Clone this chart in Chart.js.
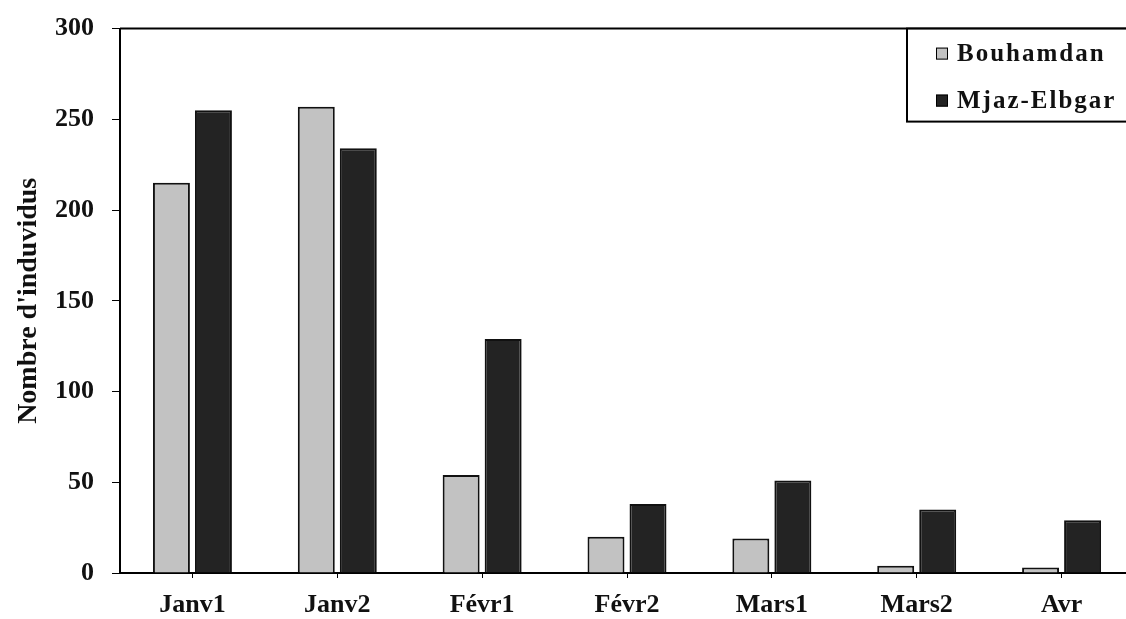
<!DOCTYPE html>
<html>
<head>
<meta charset="utf-8">
<script src="https://cdn.jsdelivr.net/npm/chart.js@4/dist/chart.umd.min.js"></script>
<style>
  html, body { margin: 0; padding: 0; background: #fff; overflow: hidden; }
  #wrap { width: 1126px; height: 619px; position: relative; overflow: hidden; }
  #c { position: absolute; left: 0; top: -5px; }
</style>
</head>
<body>
<div id="wrap"><canvas id="c" width="1134" height="624"></canvas></div>
<script>
const categories = ["Janv1", "Janv2", "Févr1", "Févr2", "Mars1", "Mars2", "Avr"];
const bouhamdan = [215, 257, 54, 20, 19, 4, 3];
const mjazElbgar = [255, 234, 129, 38, 51, 35, 29];
const seriesNames = ["Bouhamdan", "Mjaz-Elbgar"];
const yTicks = [0, 50, 100, 150, 200, 250, 300];
const yTitle = "Nombre d'induvidus";

const FONT = "'Liberation Serif', 'DejaVu Serif', serif";

const framePlugin = {
  id: 'frame',
  afterDraw(chart) {
    const ctx = chart.ctx;
    const a = chart.chartArea;
    ctx.save();
    ctx.strokeStyle = '#000';
    ctx.lineWidth = 2;
    ctx.beginPath();
    ctx.moveTo(a.left, a.top);
    ctx.lineTo(a.right, a.top);
    ctx.stroke();
    // legend box
    const bx = 907, by = a.top, bw = 1126 - 907 + 10, bh = 93;
    ctx.fillStyle = '#fff';
    ctx.fillRect(bx, by, bw, bh);
    ctx.lineWidth = 2;
    ctx.strokeRect(bx, by, bw, bh);
    const ds = chart.data.datasets;
    const rows = [by + 25, by + 72];
    ctx.font = "bold 25px " + FONT;
    ctx.textBaseline = 'middle';
    ctx.textAlign = 'left';
    ds.forEach((d, i) => {
      const y = rows[i];
      ctx.fillStyle = d.backgroundColor;
      ctx.fillRect(936, y - 6, 12, 12);
      ctx.lineWidth = 1;
      ctx.strokeStyle = '#000';
      ctx.strokeRect(936.5, y - 5.5, 11, 11);
      ctx.fillStyle = '#111';
      if ('letterSpacing' in ctx) ctx.letterSpacing = '2px';
      ctx.fillText(d.label, 957, y + 1);
      if ('letterSpacing' in ctx) ctx.letterSpacing = '0px';
    });
    ctx.restore();
  }
};

new Chart(document.getElementById('c'), {
  type: 'bar',
  data: {
    labels: categories,
    datasets: [
      { label: seriesNames[0], data: bouhamdan, backgroundColor: '#c2c2c2', borderColor: '#111', borderWidth: 2, borderSkipped: 'bottom' },
      { label: seriesNames[1], data: mjazElbgar, backgroundColor: '#232323', borderColor: '#111', borderWidth: 2, borderSkipped: 'bottom' }
    ]
  },
  options: {
    responsive: false,
    animation: false,
    layout: { padding: { left: 0, right: 0, top: 23, bottom: 0 } },
    datasets: { bar: { categoryPercentage: 0.58, barPercentage: 0.88 } },
    plugins: { legend: { display: false }, tooltip: { enabled: false } },
    scales: {
      x: {
        grid: { display: true, drawOnChartArea: false, drawTicks: true, tickLength: 5, color: '#000', offset: false },
        border: { display: true, color: '#000', width: 2 },
        ticks: { color: '#111', font: { family: FONT, size: 26, weight: 'bold' }, padding: 12, maxRotation: 0 },
        afterFit(s) { s.height = 46; }
      },
      y: {
        min: 0, max: 300,
        afterBuildTicks(s) { s.ticks = yTicks.map(v => ({ value: v })); },
        grid: { display: true, drawOnChartArea: false, drawTicks: true, tickLength: 8, color: '#000' },
        border: { display: true, color: '#000', width: 2 },
        ticks: { color: '#111', font: { family: FONT, size: 26, weight: 'bold' }, padding: 18 },
        title: { display: true, text: yTitle, color: '#111', font: { family: FONT, size: 28, weight: 'bold' }, padding: { top: 12, bottom: 0 } },
        afterFit(s) { s.width = 120; }
      }
    }
  },
  plugins: [framePlugin]
});
</script>
</body>
</html>
